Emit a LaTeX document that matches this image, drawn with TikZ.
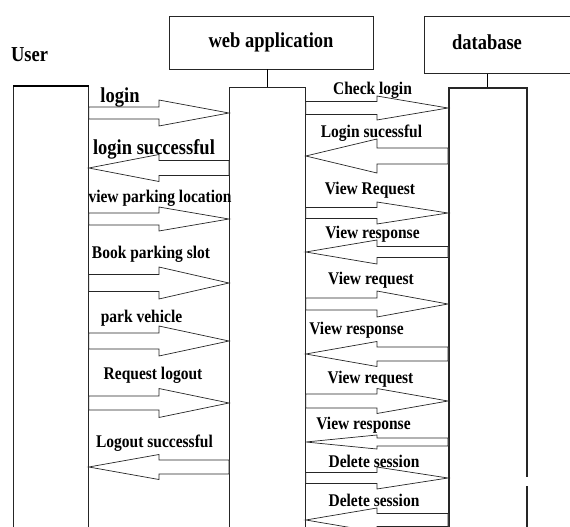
\documentclass[tikz,border=0pt]{standalone}
\usepackage{fontspec}
\setmainfont{Liberation Serif}
\usetikzlibrary{calc}

\newcommand{\blockarrow}[4]{%
  \draw[msg] let \p1=(#1), \p2=(#2), \p3=($(\p1)!.5!(\p2)$) in
    (\x1,\y1+#3pt) -- (\x3,\y1+#3pt) -- (\x3,\y1+#4pt) -- (\p2)
    -- (\x3,\y1-#4pt) -- (\x3,\y1-#3pt) -- (\x1,\y1-#3pt) -- cycle;}

\begin{document}
\begin{tikzpicture}[x=1pt, y=-1pt,
  headbox/.style={draw=black!85, line width=0.8pt},
  lifebar/.style={draw=black!85, fill=white, line width=0.8pt, anchor=north west, inner sep=0pt},
  msg/.style={draw=black!85, fill=white, line width=0.7pt},
  lbl/.style={font=\fontsize{15.5}{17}\selectfont\bfseries, inner sep=0pt, yscale=1.15, transform shape},
  biglbl/.style={font=\fontsize{18.5}{20}\selectfont\bfseries, inner sep=0pt, yscale=1.15, transform shape}]
\useasboundingbox (0,0) rectangle (570,527);

\node[biglbl] (user) at (29.5,55) {User};
\node[headbox, minimum width=204pt, minimum height=53pt] (webhead) at (271,42.5) {};
\node[biglbl] (webname) at (271,42) {web application};
\node[headbox, minimum width=160pt, minimum height=57pt, anchor=north west] (dbhead) at (424,16) {};
\node[biglbl] (dbname) at (487,42) {database};

\node[lifebar, minimum width=75pt, minimum height=450pt] (userbar) at (13,86) {};
\node[lifebar, minimum width=76pt, minimum height=450pt] (webbar) at (229,87) {};
\node[lifebar, line width=1.6pt, minimum width=78pt, minimum height=450pt] (dbbar) at (448,87) {};
\draw[line width=1.6pt] (userbar.north west) -- (userbar.north east);
\draw[white, line width=3pt] (dbbar.east |- 0,477) -- (dbbar.east |- 0,486);

\draw[line width=0.8pt] (webbar.north |- webhead.south) -- (webbar.north);
\draw[line width=0.8pt] (dbname |- dbhead.south) -- (dbname |- dbbar.north);

% user <-> web application
\blockarrow{userbar.east |- 0,113}{webbar.west |- 0,113}{6}{13}
\blockarrow{webbar.west |- 0,168}{userbar.east |- 0,168}{7.5}{13.5}
\blockarrow{userbar.east |- 0,219}{webbar.west |- 0,219}{6}{12}
\blockarrow{userbar.east |- 0,283}{webbar.west |- 0,283}{8.5}{16}
\blockarrow{userbar.east |- 0,341}{webbar.west |- 0,341}{8}{15}
\blockarrow{userbar.east |- 0,403}{webbar.west |- 0,403}{7}{14.5}
\blockarrow{webbar.west |- 0,467}{userbar.east |- 0,467}{7}{12.5}

% web application <-> database
\blockarrow{webbar.east |- 0,108}{dbbar.west |- 0,108}{6.5}{12}
\blockarrow{dbbar.west |- 0,156}{webbar.east |- 0,156}{8}{17}
\blockarrow{webbar.east |- 0,213}{dbbar.west |- 0,213}{5.5}{11}
\blockarrow{dbbar.west |- 0,252}{webbar.east |- 0,252}{5.5}{12}
\blockarrow{webbar.east |- 0,304}{dbbar.west |- 0,304}{6}{13}
\blockarrow{dbbar.west |- 0,354}{webbar.east |- 0,354}{7}{12.5}
\blockarrow{webbar.east |- 0,401}{dbbar.west |- 0,401}{7}{12.5}
\blockarrow{dbbar.west |- 0,442}{webbar.east |- 0,442}{4}{7}
\blockarrow{webbar.east |- 0,478}{dbbar.west |- 0,478}{5.5}{11}
\blockarrow{dbbar.west |- 0,520}{webbar.east |- 0,520}{6.5}{12}

\node[biglbl] (login) at (120,97) {login};
\node[biglbl] (loginok) at (154,149) {login successful};
\node[lbl] (viewloc) at (160,198) {view parking location};
\node[lbl] (bookslot) at (151,254) {Book parking slot};
\node[lbl] (park) at (141.5,318) {park vehicle};
\node[lbl] (reqlogout) at (153,375) {Request logout};
\node[lbl] (logoutok) at (154.5,443) {Logout successful};

\node[lbl] (checklogin) at (372.5,90) {Check login};
\node[lbl] (dbloginok) at (371.5,133) {Login sucessful};
\node[lbl] (viewreqa) at (370,190) {View Request};
\node[lbl] (viewrespa) at (372.5,234) {View response};
\node[lbl] (viewreqb) at (371,280) {View request};
\node[lbl] (viewrespb) at (356.5,330) {View response};
\node[lbl] (viewreqc) at (370.5,379) {View request};
\node[lbl] (viewrespc) at (363.5,425) {View response};
\node[lbl] (delsessa) at (374,461) {Delete session};
\node[lbl] (delsessb) at (374,500) {Delete session};
\end{tikzpicture}
\end{document}
